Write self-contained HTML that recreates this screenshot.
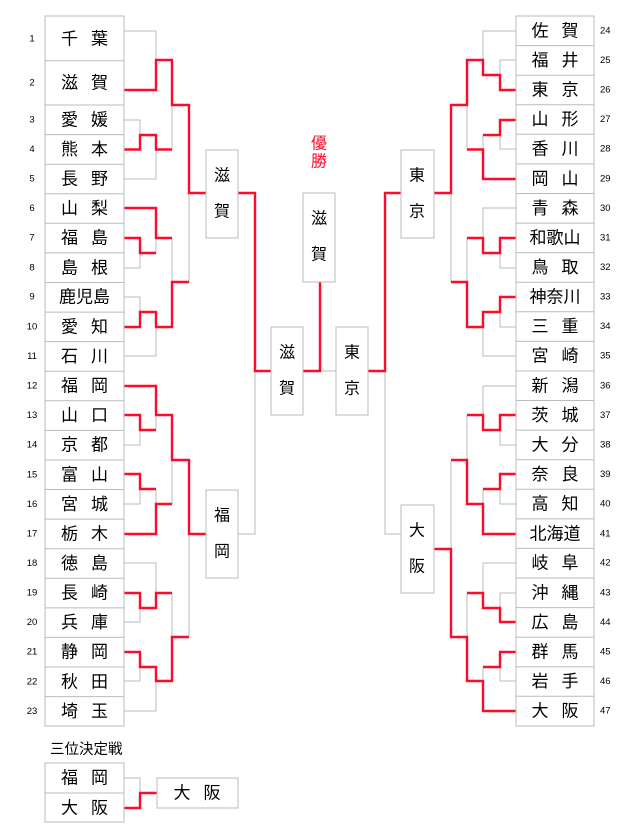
<!DOCTYPE html>
<html><head><meta charset="utf-8"><style>
html,body{margin:0;padding:0;background:#fff;}
svg{display:block;}
text{font-family:"Liberation Sans","Noto Sans CJK JP",sans-serif;fill:#000;}
.n{font-size:17px;}
.v{font-size:16px;}
.num{font-size:9.5px;fill:#222;}
.g{fill:none;stroke:#bbb;stroke-width:1;}
.r{fill:none;stroke:#ff0a2a;stroke-width:2.4;}
.b{fill:#fff;stroke:#bbb;stroke-width:1;}
</style></head><body>
<svg width="640" height="840" viewBox="0 0 640 840" xmlns="http://www.w3.org/2000/svg">
<!-- gray lines left -->
<polyline class="g" points="124,31 156,31 156,60"/>
<polyline class="g" points="124,120 140,120 140,135"/>
<polyline class="g" points="172,149.5 172,105"/>
<polyline class="g" points="124,179 156,179 156,149.5"/>
<polyline class="g" points="156,253 156,238"/>
<polyline class="g" points="124,268 140,268 140,253"/>
<polyline class="g" points="172,238 172,282"/>
<polyline class="g" points="189,193 189,282"/>
<polyline class="g" points="124,297 140,297 140,312"/>
<polyline class="g" points="124,356 156,356 156,327"/>
<polyline class="g" points="156,430 156,415"/>
<polyline class="g" points="124,445 140,445 140,430"/>
<polyline class="g" points="124,504 140,504 140,489"/>
<polyline class="g" points="156,489 156,504"/>
<polyline class="g" points="172,504 172,460"/>
<polyline class="g" points="124,563 156,563 156,593"/>
<polyline class="g" points="124,622 140,622 140,608"/>
<polyline class="g" points="124,681 140,681 140,667"/>
<polyline class="g" points="124,711 156,711 156,681"/>
<polyline class="g" points="172,593 172,637"/>
<polyline class="g" points="189,534 189,637"/>
<polyline class="g" points="238,534 255,534 255,371"/>
<polyline class="g" points="320,371 336,371"/>
<polyline class="g" points="385,371 385,534 401,534"/>
<!-- gray right -->
<polyline class="g" points="516,31 483,31 483,60"/>
<polyline class="g" points="516,60 500,60 500,75"/>
<polyline class="g" points="516,149 500,149 500,135"/>
<polyline class="g" points="483,135 483,149.5"/>
<polyline class="g" points="467,149.5 467,105"/>
<polyline class="g" points="516,208 483,208 483,238"/>
<polyline class="g" points="516,268 500,268 500,253"/>
<polyline class="g" points="516,327 500,327 500,312"/>
<polyline class="g" points="516,356 483,356 483,327"/>
<polyline class="g" points="467,238 467,282"/>
<polyline class="g" points="451,193 451,282"/>
<polyline class="g" points="516,386 483,386 483,430"/>
<polyline class="g" points="516,445 500,445 500,430"/>
<polyline class="g" points="516,504 500,504 500,489"/>
<polyline class="g" points="483,489 483,504"/>
<polyline class="g" points="467,415 467,460"/>
<polyline class="g" points="451,460 451,549"/>
<polyline class="g" points="516,563 483,563 483,593"/>
<polyline class="g" points="516,593 500,593 500,608"/>
<polyline class="g" points="516,681 500,681 500,667"/>
<polyline class="g" points="483,667 483,681"/>
<polyline class="g" points="467,593 467,637"/>
<polyline class="g" points="124,778 140,778 140,793"/>
<!-- red left -->
<polyline class="r" points="124,90 156,90 156,60 172,60 172,105 189,105 189,193 206,193"/>
<polyline class="r" points="124,149.5 140,149.5 140,135 156,135 156,149.5 172,149.5"/>
<polyline class="r" points="124,208 156,208 156,238 172,238"/>
<polyline class="r" points="124,238 140,238 140,253 156,253"/>
<polyline class="r" points="124,327 140,327 140,312 156,312 156,327 172,327 172,282 189,282"/>
<polyline class="r" points="238,193 255,193 255,371 271,371"/>
<polyline class="r" points="124,386 156,386 156,415 172,415 172,460 189,460 189,534 206,534"/>
<polyline class="r" points="124,415 140,415 140,430 156,430"/>
<polyline class="r" points="124,474 140,474 140,489 156,489"/>
<polyline class="r" points="124,534 156,534 156,504 172,504"/>
<polyline class="r" points="124,593 140,593 140,608 156,608 156,593 172,593"/>
<polyline class="r" points="124,652 140,652 140,667 156,667 156,681 172,681 172,637 189,637"/>
<polyline class="r" points="303,371 320,371 320,282"/>
<polyline class="r" points="368,371 385,371 385,193 401,193"/>
<!-- red right -->
<polyline class="r" points="516,90 500,90 500,75 483,75 483,60 467,60 467,105 451,105 451,193 434,193"/>
<polyline class="r" points="516,120 500,120 500,135 483,135"/>
<polyline class="r" points="516,179 483,179 483,149.5 467,149.5"/>
<polyline class="r" points="516,238 500,238 500,253 483,253 483,238 467,238"/>
<polyline class="r" points="516,297 500,297 500,312 483,312 483,327 467,327 467,282 451,282"/>
<polyline class="r" points="516,415 500,415 500,430 483,430 483,415 467,415"/>
<polyline class="r" points="516,474 500,474 500,489 483,489"/>
<polyline class="r" points="516,534 483,534 483,504 467,504 467,460 451,460"/>
<polyline class="r" points="516,622 500,622 500,608 483,608 483,593 467,593"/>
<polyline class="r" points="516,652 500,652 500,667 483,667"/>
<polyline class="r" points="516,711 483,711 483,681 467,681 467,637 451,637 451,549 434,549"/>
<polyline class="r" points="124,808 140,808 140,793 157,793"/>

<!-- left boxes -->
<rect class="b" x="45" y="16" width="79" height="710"/>
<g class="g">
<line x1="45" x2="124" y1="60.7" y2="60.7"/><line x1="45" x2="124" y1="105" y2="105"/>
<line x1="45" x2="124" y1="134.6" y2="134.6"/><line x1="45" x2="124" y1="164.2" y2="164.2"/>
<line x1="45" x2="124" y1="193.7" y2="193.7"/><line x1="45" x2="124" y1="223.3" y2="223.3"/>
<line x1="45" x2="124" y1="252.9" y2="252.9"/><line x1="45" x2="124" y1="282.5" y2="282.5"/>
<line x1="45" x2="124" y1="312.1" y2="312.1"/><line x1="45" x2="124" y1="341.6" y2="341.6"/>
<line x1="45" x2="124" y1="371.2" y2="371.2"/><line x1="45" x2="124" y1="400.8" y2="400.8"/>
<line x1="45" x2="124" y1="430.4" y2="430.4"/><line x1="45" x2="124" y1="460" y2="460"/>
<line x1="45" x2="124" y1="489.5" y2="489.5"/><line x1="45" x2="124" y1="519.1" y2="519.1"/>
<line x1="45" x2="124" y1="548.7" y2="548.7"/><line x1="45" x2="124" y1="578.3" y2="578.3"/>
<line x1="45" x2="124" y1="607.9" y2="607.9"/><line x1="45" x2="124" y1="637.4" y2="637.4"/>
<line x1="45" x2="124" y1="667" y2="667"/><line x1="45" x2="124" y1="696.6" y2="696.6"/>
</g>
<!-- right boxes -->
<rect class="b" x="516" y="16" width="78" height="710"/>
<g class="g">
<line x1="516" x2="594" y1="45.6" y2="45.6"/><line x1="516" x2="594" y1="75.2" y2="75.2"/>
<line x1="516" x2="594" y1="104.7" y2="104.7"/><line x1="516" x2="594" y1="134.3" y2="134.3"/>
<line x1="516" x2="594" y1="163.9" y2="163.9"/><line x1="516" x2="594" y1="193.5" y2="193.5"/>
<line x1="516" x2="594" y1="223.1" y2="223.1"/><line x1="516" x2="594" y1="252.6" y2="252.6"/>
<line x1="516" x2="594" y1="282.2" y2="282.2"/><line x1="516" x2="594" y1="311.8" y2="311.8"/>
<line x1="516" x2="594" y1="341.4" y2="341.4"/><line x1="516" x2="594" y1="371" y2="371"/>
<line x1="516" x2="594" y1="400.5" y2="400.5"/><line x1="516" x2="594" y1="430.1" y2="430.1"/>
<line x1="516" x2="594" y1="459.7" y2="459.7"/><line x1="516" x2="594" y1="489.3" y2="489.3"/>
<line x1="516" x2="594" y1="518.9" y2="518.9"/><line x1="516" x2="594" y1="548.4" y2="548.4"/>
<line x1="516" x2="594" y1="578" y2="578"/><line x1="516" x2="594" y1="607.6" y2="607.6"/>
<line x1="516" x2="594" y1="637.2" y2="637.2"/><line x1="516" x2="594" y1="666.8" y2="666.8"/>
<line x1="516" x2="594" y1="696.3" y2="696.3"/>
</g>
<!-- vertical boxes -->
<rect class="b" x="206" y="150" width="32" height="88"/>
<rect class="b" x="206" y="490" width="32" height="88"/>
<rect class="b" x="271" y="327" width="32" height="88"/>
<rect class="b" x="303" y="193" width="32" height="89"/>
<rect class="b" x="336" y="327" width="32" height="88"/>
<rect class="b" x="401" y="150" width="33" height="88"/>
<rect class="b" x="401" y="505" width="33" height="88"/>
<!-- third place -->
<rect class="b" x="45" y="763" width="79" height="59"/>
<line class="g" x1="45" x2="124" y1="793" y2="793"/>
<rect class="b" x="157" y="778" width="81" height="30"/>

<g class="v" text-anchor="middle" dominant-baseline="central">
<text x="222" y="176">滋</text><text x="222" y="212">賀</text>
<text x="222" y="516">福</text><text x="222" y="552">岡</text>
<text x="287" y="353">滋</text><text x="287" y="389">賀</text>
<text x="319" y="219">滋</text><text x="319" y="255">賀</text>
<text x="352" y="353">東</text><text x="352" y="389">京</text>
<text x="417" y="176">東</text><text x="417" y="212">京</text>
<text x="417" y="531">大</text><text x="417" y="567">阪</text>
<text x="319" y="144" style="fill:#ff0a2a">優</text><text x="319" y="162" style="fill:#ff0a2a">勝</text>
</g>

<g class="n" dominant-baseline="central">
<!-- left two-char names: x=61 and 91 -->
<g text-anchor="middle">
<text x="69.5" y="39">千</text><text x="99.5" y="39">葉</text>
<text x="69.5" y="83">滋</text><text x="99.5" y="83">賀</text>
<text x="69.5" y="120">愛</text><text x="99.5" y="120">媛</text>
<text x="69.5" y="149.5">熊</text><text x="99.5" y="149.5">本</text>
<text x="69.5" y="179">長</text><text x="99.5" y="179">野</text>
<text x="69.5" y="208.5">山</text><text x="99.5" y="208.5">梨</text>
<text x="69.5" y="238">福</text><text x="99.5" y="238">島</text>
<text x="69.5" y="268">島</text><text x="99.5" y="268">根</text>
<text x="84.5" y="297">鹿児島</text>
<text x="69.5" y="327">愛</text><text x="99.5" y="327">知</text>
<text x="69.5" y="356.5">石</text><text x="99.5" y="356.5">川</text>
<text x="69.5" y="386">福</text><text x="99.5" y="386">岡</text>
<text x="69.5" y="415.5">山</text><text x="99.5" y="415.5">口</text>
<text x="69.5" y="445">京</text><text x="99.5" y="445">都</text>
<text x="69.5" y="475">富</text><text x="99.5" y="475">山</text>
<text x="69.5" y="504.5">宮</text><text x="99.5" y="504.5">城</text>
<text x="69.5" y="534">栃</text><text x="99.5" y="534">木</text>
<text x="69.5" y="563.5">徳</text><text x="99.5" y="563.5">島</text>
<text x="69.5" y="593">長</text><text x="99.5" y="593">崎</text>
<text x="69.5" y="622.5">兵</text><text x="99.5" y="622.5">庫</text>
<text x="69.5" y="652">静</text><text x="99.5" y="652">岡</text>
<text x="69.5" y="682">秋</text><text x="99.5" y="682">田</text>
<text x="69.5" y="711.5">埼</text><text x="99.5" y="711.5">玉</text>
<!-- right -->
<text x="540" y="31">佐</text><text x="570" y="31">賀</text>
<text x="540" y="60.5">福</text><text x="570" y="60.5">井</text>
<text x="540" y="90">東</text><text x="570" y="90">京</text>
<text x="540" y="119.5">山</text><text x="570" y="119.5">形</text>
<text x="540" y="149">香</text><text x="570" y="149">川</text>
<text x="540" y="179">岡</text><text x="570" y="179">山</text>
<text x="540" y="208.5">青</text><text x="570" y="208.5">森</text>
<text x="555" y="238">和歌山</text>
<text x="540" y="267.5">鳥</text><text x="570" y="267.5">取</text>
<text x="555" y="297">神奈川</text>
<text x="540" y="326.5">三</text><text x="570" y="326.5">重</text>
<text x="540" y="356">宮</text><text x="570" y="356">崎</text>
<text x="540" y="386">新</text><text x="570" y="386">潟</text>
<text x="540" y="415.5">茨</text><text x="570" y="415.5">城</text>
<text x="540" y="445">大</text><text x="570" y="445">分</text>
<text x="540" y="474.5">奈</text><text x="570" y="474.5">良</text>
<text x="540" y="504">高</text><text x="570" y="504">知</text>
<text x="555" y="534">北海道</text>
<text x="540" y="563">岐</text><text x="570" y="563">阜</text>
<text x="540" y="593">沖</text><text x="570" y="593">縄</text>
<text x="540" y="622.5">広</text><text x="570" y="622.5">島</text>
<text x="540" y="652">群</text><text x="570" y="652">馬</text>
<text x="540" y="681.5">岩</text><text x="570" y="681.5">手</text>
<text x="540" y="711">大</text><text x="570" y="711">阪</text>
<!-- third -->
<text x="69.5" y="778">福</text><text x="99.5" y="778">岡</text>
<text x="69.5" y="808">大</text><text x="99.5" y="808">阪</text>
<text x="182" y="793">大</text><text x="212" y="793">阪</text>
</g>
</g>
<text x="50" y="750" style="font-size:14.5px" dominant-baseline="central">三位決定戦</text>

<g class="num" text-anchor="middle" dominant-baseline="central">
<text x="32" y="39">1</text><text x="32" y="83">2</text><text x="32" y="120">3</text>
<text x="32" y="149.5">4</text><text x="32" y="179">5</text><text x="32" y="208.5">6</text>
<text x="32" y="238">7</text><text x="32" y="268">8</text><text x="32" y="297">9</text>
<text x="32" y="327">10</text><text x="32" y="356.5">11</text><text x="32" y="386">12</text>
<text x="32" y="415.5">13</text><text x="32" y="445">14</text><text x="32" y="475">15</text>
<text x="32" y="504.5">16</text><text x="32" y="534">17</text><text x="32" y="563.5">18</text>
<text x="32" y="593">19</text><text x="32" y="622.5">20</text><text x="32" y="652">21</text>
<text x="32" y="682">22</text><text x="32" y="711.5">23</text>
</g>
<g class="num" dominant-baseline="central">
<text x="600" y="31">24</text><text x="600" y="60.5">25</text><text x="600" y="90">26</text>
<text x="600" y="119.5">27</text><text x="600" y="149">28</text><text x="600" y="179">29</text>
<text x="600" y="208.5">30</text><text x="600" y="238">31</text><text x="600" y="267.5">32</text>
<text x="600" y="297">33</text><text x="600" y="326.5">34</text><text x="600" y="356">35</text>
<text x="600" y="386">36</text><text x="600" y="415.5">37</text><text x="600" y="445">38</text>
<text x="600" y="474.5">39</text><text x="600" y="504">40</text><text x="600" y="534">41</text>
<text x="600" y="563">42</text><text x="600" y="593">43</text><text x="600" y="622.5">44</text>
<text x="600" y="652">45</text><text x="600" y="681.5">46</text><text x="600" y="711">47</text>
</g>
</svg>
</body></html>
